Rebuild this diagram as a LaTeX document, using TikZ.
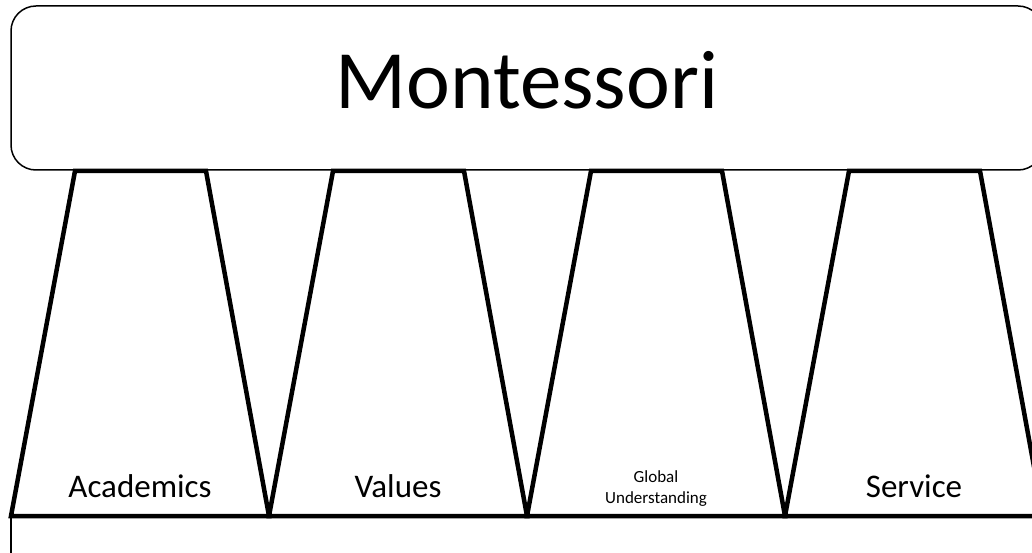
\documentclass[tikz,border=0pt]{standalone}
\usepackage{fontspec}
\setmainfont{Carlito}
\begin{document}
\begin{tikzpicture}[x=1pt,y=-1pt,
  thinline/.style={line width=1.5pt},
  pillar/.style={line width=4.5pt, line join=miter},
  biglabel/.style={font=\fontsize{83}{90}\selectfont, inner sep=0pt},
  pillarlabel/.style={font=\fontsize{33}{38}\selectfont, inner sep=0pt, anchor=base},
  smalllabel/.style={font=\fontsize{17}{21}\selectfont, inner sep=0pt, align=center, anchor=base}]
\useasboundingbox (0,0) rectangle (1032,553);
\clip (0,0) rectangle (1032,553);
\fill[white] (0,0) rectangle (1032,553);
\draw[thinline, rounded corners=25pt] (11,6) rectangle (1043,170);
\node[biglabel] (title) at (527,80) {Montessori};
\foreach \i in {0,1,2,3} {
  \draw[pillar] ({75+258*\i},171) -- ({206+258*\i},171) -- ({269+258*\i},516) -- ({11+258*\i},516) -- cycle;
}
\draw[pillar] (11,516) -- (1043,516);
\draw[thinline] (11,516) -- (11,560);
\node[pillarlabel] (acad) at (140,497) {Academics};
\node[pillarlabel] (vals) at (398,497) {Values};
\node[smalllabel] (glob) at (656,482) {Global};
\node[smalllabel] (und) at (656,503) {Understanding};
\node[pillarlabel] (serv) at (914,497) {Service};
\end{tikzpicture}
\end{document}
